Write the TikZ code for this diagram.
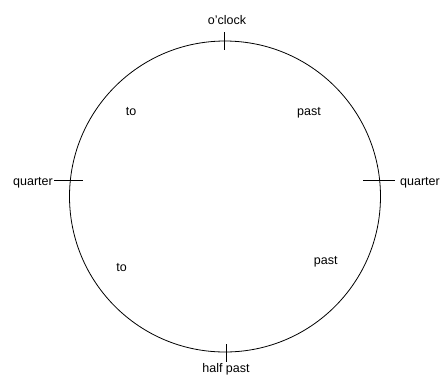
\documentclass[tikz,border=0pt]{standalone}
\usepackage{fontspec}
\setmainfont{Liberation Sans}
\begin{document}
\begin{tikzpicture}[x=1pt,y=-1pt,
  lbl/.style={inner sep=0pt, font=\fontsize{12.5}{15}\selectfont},
  tick/.style={line width=0.8pt, black},
  face/.style={circle, draw, line width=0.8pt, minimum size=311pt, inner sep=0pt}]
\useasboundingbox (0,0) rectangle (440,376);
\node[face] (clock) at (225,196.5) {};
% ticks
\coordinate (t1) at (224,32); \coordinate (t2) at (224,50);
\coordinate (b1) at (226,344); \coordinate (b2) at (226,362);
\coordinate (l1) at (54,180); \coordinate (l2) at (83,180);
\coordinate (r1) at (363,180); \coordinate (r2) at (395,180);
\draw[tick] (t1) -- (t2);
\draw[tick] (b1) -- (b2);
\draw[tick] (l1) -- (l2);
\draw[tick] (r1) -- (r2);
% labels
\node[lbl, anchor=base] (oclock) at (227,24) {o'clock};
\node[lbl, anchor=base] (halfpast) at (226,372.8) {half past};
\node[lbl, anchor=base east] (qleft) at (53,185) {quarter};
\node[lbl, anchor=base west] (qright) at (400,185) {quarter};
\node[lbl, anchor=base] (to1) at (131,115) {to};
\node[lbl, anchor=base] (past1) at (309,115) {past};
\node[lbl, anchor=base] (to2) at (121.5,271) {to};
\node[lbl, anchor=base] (past2) at (325.7,264) {past};
\end{tikzpicture}
\end{document}
